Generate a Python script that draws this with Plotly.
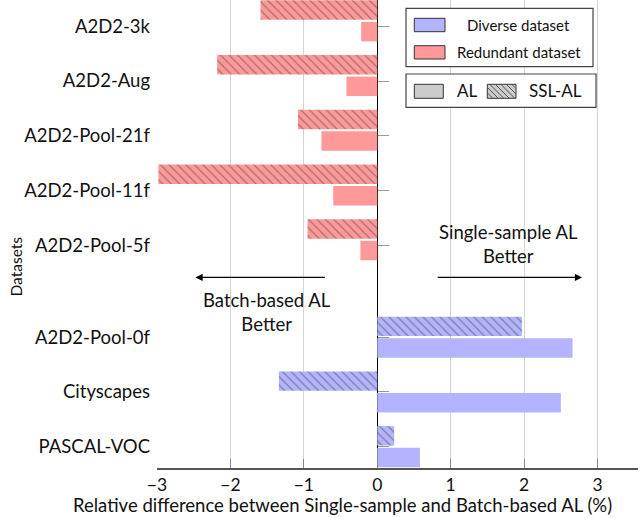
import plotly.graph_objects as go

# ---------------- data ----------------
datasets = ["PASCAL-VOC", "Cityscapes", "A2D2-Pool-0f", "A2D2-Pool-5f",
            "A2D2-Pool-11f", "A2D2-Pool-21f", "A2D2-Aug", "A2D2-3k"]
groups = ["Diverse", "Diverse", "Diverse", "Redundant",
          "Redundant", "Redundant", "Redundant", "Redundant"]
al_values = [0.58, 2.50, 2.66, -0.23, -0.60, -0.76, -0.42, -0.22]
ssl_values = [0.23, -1.34, 1.97, -0.95, -2.98, -1.08, -2.18, -1.59]
positions = [0, 1, 2, 3.78, 4.78, 5.78, 6.78, 7.78]
tick_positions = [0, 1, 2, 3.68, 4.68, 5.68, 6.68, 7.68]
x_ticks = [-3, -2, -1, 0, 1, 2, 3]
x_tick_labels = ["\u22123", "\u22122", "\u22121", "0", "1", "2", "3"]

group_colors = {"Diverse": "#B3B3FF", "Redundant": "#FF9999"}
bar_colors = [group_colors[g] for g in groups]

W, H = 638, 518
ML, MR, MT, MB = 157, 0, 0, 50
PW, PH = W - ML - MR, H - MT - MB

def px(x):
    return (x - ML) / PW

def py(y):
    return 1 - (y - MT) / PH

FONT = "Lato"

fig = go.Figure()

BAR_W = 0.355
fig.add_trace(go.Bar(
    y=positions, x=ssl_values, orientation="h", name="SSL-AL",
    width=BAR_W, offset=0.02,
    marker=dict(color=bar_colors, line=dict(width=0),
                pattern=dict(shape="\\", fgcolor="#555555",
                             size=6, solidity=0.2, fillmode="overlay")),
    showlegend=False, hoverinfo="skip"))
fig.add_trace(go.Bar(
    y=positions, x=al_values, orientation="h", name="AL",
    width=BAR_W, offset=-0.375,
    marker=dict(color=bar_colors, line=dict(width=0)),
    showlegend=False, hoverinfo="skip"))

# invisible trace for the second y axis (tick marks at x = 0)
fig.add_trace(go.Scatter(x=[None], y=[None], yaxis="y2", showlegend=False,
                         hoverinfo="skip"))

x_range = [-3.0, (W - 377) / 73.5]
fig.update_layout(
    width=W, height=H,
    margin=dict(l=ML, r=MR, t=MT, b=MB, autoexpand=False),
    plot_bgcolor="white", paper_bgcolor="white",
    showlegend=False, barmode="overlay",
    font=dict(family=FONT, color="#111111"),
    xaxis=dict(range=x_range, tickvals=x_ticks, ticktext=x_tick_labels,
               automargin=False,
               showgrid=True, gridcolor="#d4d4d4", gridwidth=1.2,
               zeroline=True, zerolinecolor="black", zerolinewidth=1.2,
               showline=True, linecolor="#555555", linewidth=1.5,
               ticks="inside", ticklen=9, tickcolor="#888888",
               ticklabelstandoff=0,
               tickfont=dict(size=17.5, family=FONT)),
    yaxis=dict(range=[-0.39, 8.16], tickvals=tick_positions, ticktext=datasets,
               automargin=False,
               showgrid=False, zeroline=False, showline=False,
               ticks="", ticklabelstandoff=6,
               tickfont=dict(size=18.5, family=FONT)),
    yaxis2=dict(range=[-0.39, 8.16], overlaying="y", anchor="free",
                automargin=False,
                position=px(377), side="right", tickvals=tick_positions,
                showticklabels=False, ticks="outside", ticklen=11,
                tickcolor="#999999", tickwidth=1.3,
                showgrid=False, zeroline=False, showline=False),
)

def text(t, xc, yc, size=15, anchor="center", angle=0):
    fig.add_annotation(text=t, x=px(xc), y=py(yc), xref="paper", yref="paper",
                       showarrow=False, xanchor=anchor, yanchor="middle",
                       textangle=angle, font=dict(size=size, family=FONT))

# axis titles
text("Datasets", 15, 266.5, size=15.5, angle=-90)
text("Relative difference between Single-sample and Batch-based AL (%)", 342, 505.5, size=18.5)

# direction annotations
text("Single-sample AL<br>Better", 508.5, 244, size=18.5)
text("Batch-based AL<br>Better", 267, 311.5, size=18.5)
arrow_y = (446.7 - 277.3) / 54.8
fig.add_annotation(x=(582 - 377) / 73.5, y=arrow_y, ax=(436 - 377) / 73.5, ay=arrow_y,
                   xref="x", yref="y", axref="x", ayref="y", text="", showarrow=True,
                   arrowhead=2, arrowsize=1.2, arrowwidth=1.2, arrowcolor="black")
fig.add_annotation(x=(195 - 377) / 73.5, y=arrow_y, ax=(326 - 377) / 73.5, ay=arrow_y,
                   xref="x", yref="y", axref="x", ayref="y", text="", showarrow=True,
                   arrowhead=2, arrowsize=1.2, arrowwidth=1.2, arrowcolor="black")

# ---------------- manual legends ----------------
shapes = []

def rect(x0, y0, x1, y1, fill, line="#333333", lw=1):
    shapes.append(dict(type="rect", xref="paper", yref="paper",
                       x0=px(x0), x1=px(x1), y0=py(y1), y1=py(y0),
                       fillcolor=fill, line=dict(color=line, width=lw), layer="above"))

# box 1
rect(406, 8.3, 593, 66.7, "white", "#444444", 1.2)
rect(414.3, 18.3, 445, 31.7, group_colors["Diverse"], "#333333", 1)
rect(414.3, 45.7, 445, 59, group_colors["Redundant"], "#333333", 1)
text("Diverse dataset", 518.5, 24.5)
text("Redundant dataset", 519, 51.5)

# box 2
rect(406, 74, 596, 107.3, "white", "#444444", 1.2)
rect(414.3, 84.3, 443.3, 98.3, "#CCCCCC", "#333333", 1)
rect(487.3, 84.3, 516, 98.3, "#CCCCCC", "#333333", 1)
# hatch for the SSL-AL swatch
x0, x1, y0, y1 = 487.3, 516, 84.3, 98.3
c = x0 - y1
while c < x1 - y0:
    sx, sy = c + y0, y0
    if sx < x0:
        sx, sy = x0, x0 - c
    ex, ey = c + y1, y1
    if ex > x1:
        ex, ey = x1, x1 - c
    if ex > sx:
        shapes.append(dict(type="line", xref="paper", yref="paper",
                           x0=px(sx), y0=py(sy), x1=px(ex), y1=py(ey),
                           line=dict(color="#555555", width=1), layer="above"))
    c += 5.5
text("AL", 455, 91, size=17, anchor="left")
text("SSL-AL", 527, 91, size=17, anchor="left")

fig.update_layout(shapes=shapes)

fig.write_html("out.html", config={"displayModeBar": False},
               post_script="document.body.style.margin='0px';document.body.style.overflow='hidden';")
